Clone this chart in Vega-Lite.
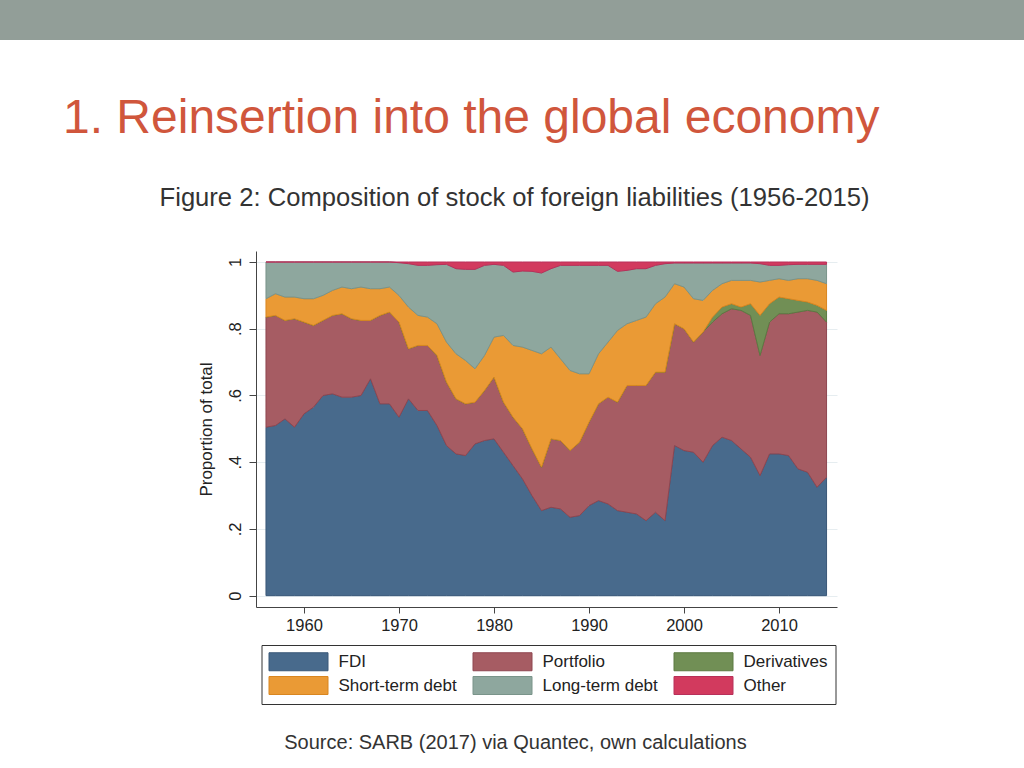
{
  "$schema": "https://vega.github.io/schema/vega-lite/v6.json",
  "background": "white",
  "padding": 0,
  "bounds": "flush",
  "spacing": 211,
  "config": {
    "view": {"stroke": null},
    "font": "Liberation Sans"
  },
  "vconcat": [
    {
      "width": 1024,
      "height": 40,
      "data": {"values": [{}]},
      "mark": {"type": "text", "text": ""},
      "encoding": {},
      "view": {"fill": "#929e98", "stroke": null},
      "title": {
        "text": "1. Reinsertion into the global economy",
        "orient": "bottom",
        "anchor": "start",
        "frame": "group",
        "offset": 93,
        "baseline": "alphabetic",
        "dx": 63,
        "fontSize": 48,
        "font": "Liberation Sans",
        "fontWeight": "normal",
        "color": "#d0563c"
      }
    },
    {
      "bounds": "flush",
      "spacing": 0,
      "hconcat": [
        {
          "width": 256,
          "height": 356,
          "data": {"values": [{}]},
          "mark": {"type": "text", "text": ""},
          "encoding": {},
          "view": {"stroke": null}
        },
        {
          "width": 581,
          "height": 356,
          "view": {"fill": "white", "stroke": null},
          "title": {
            "text": "Figure 2: Composition of stock of foreign liabilities (1956-2015)",
            "anchor": "middle",
            "frame": "group",
            "offset": 19,
            "baseline": "alphabetic",
            "dx": -32,
            "fontSize": 25.6,
            "font": "Liberation Sans",
            "fontWeight": "normal",
            "color": "#333333"
          },
          "data": {
            "values": [
              {"year": 1956, "FDI": 0.505, "Portfolio": 0.33, "Derivatives": 0, "Short-term debt": 0.055, "Long-term debt": 0.11, "Other": 0},
              {"year": 1957, "FDI": 0.51, "Portfolio": 0.33, "Derivatives": 0, "Short-term debt": 0.065, "Long-term debt": 0.095, "Other": 0},
              {"year": 1958, "FDI": 0.53, "Portfolio": 0.295, "Derivatives": 0, "Short-term debt": 0.07, "Long-term debt": 0.105, "Other": 0},
              {"year": 1959, "FDI": 0.505, "Portfolio": 0.325, "Derivatives": 0, "Short-term debt": 0.065, "Long-term debt": 0.105, "Other": 0},
              {"year": 1960, "FDI": 0.545, "Portfolio": 0.275, "Derivatives": 0, "Short-term debt": 0.07, "Long-term debt": 0.11, "Other": 0},
              {"year": 1961, "FDI": 0.565, "Portfolio": 0.245, "Derivatives": 0, "Short-term debt": 0.08, "Long-term debt": 0.11, "Other": 0},
              {"year": 1962, "FDI": 0.6, "Portfolio": 0.225, "Derivatives": 0, "Short-term debt": 0.075, "Long-term debt": 0.1, "Other": 0},
              {"year": 1963, "FDI": 0.605, "Portfolio": 0.235, "Derivatives": 0, "Short-term debt": 0.075, "Long-term debt": 0.085, "Other": 0},
              {"year": 1964, "FDI": 0.595, "Portfolio": 0.25, "Derivatives": 0, "Short-term debt": 0.08, "Long-term debt": 0.075, "Other": 0},
              {"year": 1965, "FDI": 0.595, "Portfolio": 0.235, "Derivatives": 0, "Short-term debt": 0.09, "Long-term debt": 0.08, "Other": 0},
              {"year": 1966, "FDI": 0.6, "Portfolio": 0.225, "Derivatives": 0, "Short-term debt": 0.1, "Long-term debt": 0.075, "Other": 0},
              {"year": 1967, "FDI": 0.65, "Portfolio": 0.175, "Derivatives": 0, "Short-term debt": 0.095, "Long-term debt": 0.08, "Other": 0},
              {"year": 1968, "FDI": 0.575, "Portfolio": 0.265, "Derivatives": 0, "Short-term debt": 0.08, "Long-term debt": 0.08, "Other": 0},
              {"year": 1969, "FDI": 0.575, "Portfolio": 0.275, "Derivatives": 0, "Short-term debt": 0.075, "Long-term debt": 0.075, "Other": 0},
              {"year": 1970, "FDI": 0.535, "Portfolio": 0.285, "Derivatives": 0, "Short-term debt": 0.08, "Long-term debt": 0.098, "Other": 0.002},
              {"year": 1971, "FDI": 0.59, "Portfolio": 0.15, "Derivatives": 0, "Short-term debt": 0.125, "Long-term debt": 0.13, "Other": 0.005},
              {"year": 1972, "FDI": 0.555, "Portfolio": 0.195, "Derivatives": 0, "Short-term debt": 0.09, "Long-term debt": 0.15, "Other": 0.01},
              {"year": 1973, "FDI": 0.555, "Portfolio": 0.195, "Derivatives": 0, "Short-term debt": 0.085, "Long-term debt": 0.155, "Other": 0.01},
              {"year": 1974, "FDI": 0.51, "Portfolio": 0.21, "Derivatives": 0, "Short-term debt": 0.095, "Long-term debt": 0.177, "Other": 0.008},
              {"year": 1975, "FDI": 0.45, "Portfolio": 0.19, "Derivatives": 0, "Short-term debt": 0.12, "Long-term debt": 0.233, "Other": 0.007},
              {"year": 1976, "FDI": 0.425, "Portfolio": 0.165, "Derivatives": 0, "Short-term debt": 0.135, "Long-term debt": 0.255, "Other": 0.02},
              {"year": 1977, "FDI": 0.42, "Portfolio": 0.155, "Derivatives": 0, "Short-term debt": 0.13, "Long-term debt": 0.273, "Other": 0.022},
              {"year": 1978, "FDI": 0.455, "Portfolio": 0.125, "Derivatives": 0, "Short-term debt": 0.1, "Long-term debt": 0.298, "Other": 0.022},
              {"year": 1979, "FDI": 0.465, "Portfolio": 0.15, "Derivatives": 0, "Short-term debt": 0.105, "Long-term debt": 0.27, "Other": 0.01},
              {"year": 1980, "FDI": 0.47, "Portfolio": 0.185, "Derivatives": 0, "Short-term debt": 0.12, "Long-term debt": 0.218, "Other": 0.007},
              {"year": 1981, "FDI": 0.43, "Portfolio": 0.15, "Derivatives": 0, "Short-term debt": 0.2, "Long-term debt": 0.21, "Other": 0.01},
              {"year": 1982, "FDI": 0.39, "Portfolio": 0.145, "Derivatives": 0, "Short-term debt": 0.215, "Long-term debt": 0.22, "Other": 0.03},
              {"year": 1983, "FDI": 0.35, "Portfolio": 0.15, "Derivatives": 0, "Short-term debt": 0.245, "Long-term debt": 0.228, "Other": 0.027},
              {"year": 1984, "FDI": 0.3, "Portfolio": 0.14, "Derivatives": 0, "Short-term debt": 0.295, "Long-term debt": 0.237, "Other": 0.028},
              {"year": 1985, "FDI": 0.255, "Portfolio": 0.13, "Derivatives": 0, "Short-term debt": 0.34, "Long-term debt": 0.242, "Other": 0.033},
              {"year": 1986, "FDI": 0.265, "Portfolio": 0.205, "Derivatives": 0, "Short-term debt": 0.275, "Long-term debt": 0.235, "Other": 0.02},
              {"year": 1987, "FDI": 0.26, "Portfolio": 0.205, "Derivatives": 0, "Short-term debt": 0.245, "Long-term debt": 0.28, "Other": 0.01},
              {"year": 1988, "FDI": 0.235, "Portfolio": 0.2, "Derivatives": 0, "Short-term debt": 0.24, "Long-term debt": 0.315, "Other": 0.01},
              {"year": 1989, "FDI": 0.24, "Portfolio": 0.22, "Derivatives": 0, "Short-term debt": 0.205, "Long-term debt": 0.325, "Other": 0.01},
              {"year": 1990, "FDI": 0.27, "Portfolio": 0.25, "Derivatives": 0, "Short-term debt": 0.145, "Long-term debt": 0.325, "Other": 0.01},
              {"year": 1991, "FDI": 0.285, "Portfolio": 0.29, "Derivatives": 0, "Short-term debt": 0.15, "Long-term debt": 0.265, "Other": 0.01},
              {"year": 1992, "FDI": 0.275, "Portfolio": 0.32, "Derivatives": 0, "Short-term debt": 0.165, "Long-term debt": 0.23, "Other": 0.01},
              {"year": 1993, "FDI": 0.255, "Portfolio": 0.325, "Derivatives": 0, "Short-term debt": 0.215, "Long-term debt": 0.177, "Other": 0.028},
              {"year": 1994, "FDI": 0.25, "Portfolio": 0.38, "Derivatives": 0, "Short-term debt": 0.185, "Long-term debt": 0.16, "Other": 0.025},
              {"year": 1995, "FDI": 0.245, "Portfolio": 0.385, "Derivatives": 0, "Short-term debt": 0.195, "Long-term debt": 0.155, "Other": 0.02},
              {"year": 1996, "FDI": 0.225, "Portfolio": 0.405, "Derivatives": 0, "Short-term debt": 0.205, "Long-term debt": 0.145, "Other": 0.02},
              {"year": 1997, "FDI": 0.25, "Portfolio": 0.42, "Derivatives": 0, "Short-term debt": 0.205, "Long-term debt": 0.115, "Other": 0.01},
              {"year": 1998, "FDI": 0.225, "Portfolio": 0.445, "Derivatives": 0, "Short-term debt": 0.225, "Long-term debt": 0.1, "Other": 0.005},
              {"year": 1999, "FDI": 0.45, "Portfolio": 0.365, "Derivatives": 0, "Short-term debt": 0.12, "Long-term debt": 0.062, "Other": 0.003},
              {"year": 2000, "FDI": 0.435, "Portfolio": 0.365, "Derivatives": 0, "Short-term debt": 0.125, "Long-term debt": 0.072, "Other": 0.003},
              {"year": 2001, "FDI": 0.43, "Portfolio": 0.33, "Derivatives": 0, "Short-term debt": 0.13, "Long-term debt": 0.107, "Other": 0.003},
              {"year": 2002, "FDI": 0.4, "Portfolio": 0.39, "Derivatives": 0, "Short-term debt": 0.095, "Long-term debt": 0.112, "Other": 0.003},
              {"year": 2003, "FDI": 0.45, "Portfolio": 0.37, "Derivatives": 0.015, "Short-term debt": 0.08, "Long-term debt": 0.082, "Other": 0.003},
              {"year": 2004, "FDI": 0.475, "Portfolio": 0.37, "Derivatives": 0.02, "Short-term debt": 0.07, "Long-term debt": 0.062, "Other": 0.003},
              {"year": 2005, "FDI": 0.465, "Portfolio": 0.395, "Derivatives": 0.015, "Short-term debt": 0.07, "Long-term debt": 0.052, "Other": 0.003},
              {"year": 2006, "FDI": 0.44, "Portfolio": 0.415, "Derivatives": 0.01, "Short-term debt": 0.08, "Long-term debt": 0.052, "Other": 0.003},
              {"year": 2007, "FDI": 0.415, "Portfolio": 0.425, "Derivatives": 0.035, "Short-term debt": 0.07, "Long-term debt": 0.052, "Other": 0.003},
              {"year": 2008, "FDI": 0.36, "Portfolio": 0.36, "Derivatives": 0.12, "Short-term debt": 0.1, "Long-term debt": 0.055, "Other": 0.005},
              {"year": 2009, "FDI": 0.425, "Portfolio": 0.395, "Derivatives": 0.055, "Short-term debt": 0.07, "Long-term debt": 0.045, "Other": 0.01},
              {"year": 2010, "FDI": 0.425, "Portfolio": 0.42, "Derivatives": 0.05, "Short-term debt": 0.055, "Long-term debt": 0.04, "Other": 0.01},
              {"year": 2011, "FDI": 0.42, "Portfolio": 0.425, "Derivatives": 0.045, "Short-term debt": 0.055, "Long-term debt": 0.047, "Other": 0.008},
              {"year": 2012, "FDI": 0.38, "Portfolio": 0.47, "Derivatives": 0.035, "Short-term debt": 0.065, "Long-term debt": 0.043, "Other": 0.007},
              {"year": 2013, "FDI": 0.37, "Portfolio": 0.485, "Derivatives": 0.025, "Short-term debt": 0.07, "Long-term debt": 0.043, "Other": 0.007},
              {"year": 2014, "FDI": 0.325, "Portfolio": 0.525, "Derivatives": 0.02, "Short-term debt": 0.075, "Long-term debt": 0.048, "Other": 0.007},
              {"year": 2015, "FDI": 0.355, "Portfolio": 0.465, "Derivatives": 0.035, "Short-term debt": 0.08, "Long-term debt": 0.058, "Other": 0.007}
            ]
          },
          "transform": [
            {"fold": ["FDI", "Portfolio", "Derivatives", "Short-term debt", "Long-term debt", "Other"], "as": ["series", "value"]},
            {
              "lookup": "series",
              "from": {
                "data": {
                  "values": [
                    {"series": "FDI", "rank": 1},
                    {"series": "Portfolio", "rank": 2},
                    {"series": "Derivatives", "rank": 3},
                    {"series": "Short-term debt", "rank": 4},
                    {"series": "Long-term debt", "rank": 5},
                    {"series": "Other", "rank": 6}
                  ]
                },
                "key": "series",
                "fields": ["rank"]
              }
            }
          ],
          "mark": {"type": "area", "opacity": 1, "strokeWidth": 1},
          "encoding": {
            "x": {
              "field": "year",
              "type": "quantitative",
              "scale": {"domain": [1954.95, 2016.1], "nice": false, "zero": false},
              "axis": {
                "values": [1960, 1970, 1980, 1990, 2000, 2010],
                "format": "d",
                "grid": false,
                "domainColor": "#444444",
                "tickColor": "#444444",
                "tickSize": 6,
                "labelFontSize": 16.5,
                "labelFont": "Liberation Sans",
                "labelColor": "#222222",
                "labelPadding": 4,
                "title": "Source: SARB (2017) via Quantec, own calculations",
                "titleFont": "Liberation Sans",
                "titleFontSize": 20,
                "titleFontWeight": "normal",
                "titleColor": "#333333",
                "titleX": 259,
                "titleY": 141.5,
                "titleAlign": "center",
                "titleBaseline": "alphabetic"
              }
            },
            "y": {
              "field": "value",
              "type": "quantitative",
              "stack": "zero",
              "scale": {"domain": [-0.034, 1.033], "nice": false, "zero": false},
              "axis": {
                "values": [0, 0.2, 0.4, 0.6, 0.8, 1],
                "labelExpr": "datum.value == 0 ? '0' : datum.value == 1 ? '1' : '.' + format(datum.value * 10, 'd')",
                "grid": true,
                "gridColor": "#e6edf0",
                "domainColor": "#444444",
                "tickColor": "#444444",
                "tickSize": 7,
                "labelAngle": 270,
                "labelAlign": "center",
                "labelBaseline": "bottom",
                "labelPadding": 6,
                "labelFontSize": 16.5,
                "labelFont": "Liberation Sans",
                "labelColor": "#222222",
                "title": "Proportion of total",
                "titleFont": "Liberation Sans",
                "titleFontSize": 17,
                "titleFontWeight": "normal",
                "titleColor": "#222222",
                "titlePadding": 12
              }
            },
            "order": {"field": "rank", "type": "quantitative"},
            "color": {
              "field": "series",
              "type": "nominal",
              "scale": {
                "domain": ["FDI", "Portfolio", "Derivatives", "Short-term debt", "Long-term debt", "Other"],
                "range": ["#486a8c", "#a65c63", "#718f55", "#ea9a35", "#8ea79e", "#d23a5e"]
              },
              "legend": {
                "orient": "none",
                "legendX": 261.5,
                "legendY": 645,
                "direction": "horizontal",
                "columns": 3,
                "title": null,
                "symbolType": "M-1,-1H5.556V1H-1Z",
                "symbolSize": 324,
                "symbolStrokeWidth": 1,
                "symbolOpacity": 1,
                "labelOffset": 51,
                "columnPadding": 13,
                "rowPadding": 1,
                "padding": 7,
                "fillColor": "white",
                "strokeColor": "#333333",
                "labelFont": "Liberation Sans",
                "labelFontSize": 17,
                "labelColor": "#222222"
              }
            },
            "stroke": {
              "field": "series",
              "type": "nominal",
              "scale": {
                "domain": ["FDI", "Portfolio", "Derivatives", "Short-term debt", "Long-term debt", "Other"],
                "range": ["#3a5878", "#8f4650", "#5c7a42", "#d98620", "#7a948a", "#b8305a"]
              },
              "legend": null
            }
          }
        }
      ]
    }
  ]
}
